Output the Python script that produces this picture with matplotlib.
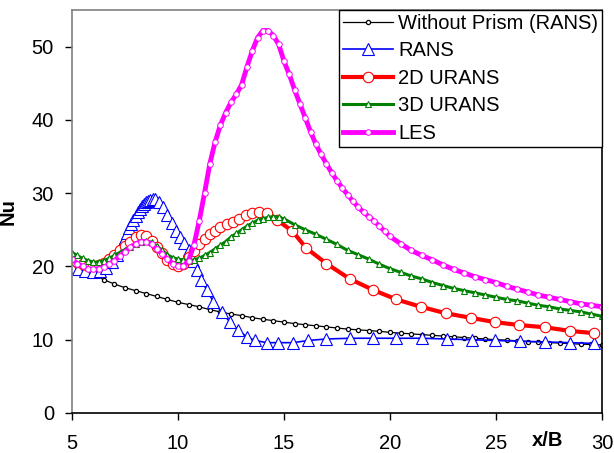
import matplotlib
matplotlib.use('Agg')
from matplotlib import pyplot as plt

plt.rcParams['font.family'] = ['Liberation Sans', 'DejaVu Sans']

### Data (x/B, Nu)
x_noprism = [5.0, 5.5, 6.0, 6.5, 7.0, 7.5, 8.0, 8.5, 9.0, 9.5, 10.0, 10.5, 11.0, 11.5, 12.0,
             12.5, 13.0, 13.5, 14.0, 14.5, 15.0, 15.5, 16.0, 16.5, 17.0, 17.5, 18.0, 18.5,
             19.0, 19.5, 20.0, 20.5, 21.0, 21.5, 22.0, 22.5, 23.0, 23.5, 24.0, 24.5, 25.0,
             25.5, 26.0, 26.5, 27.0, 27.5, 28.0, 28.5, 29.0, 29.5, 30.0]
nu_noprism = [20.4, 19.6, 18.9, 18.2, 17.6, 17.1, 16.7, 16.3, 15.9, 15.5, 15.1, 14.8, 14.5,
              14.1, 13.8, 13.5, 13.3, 13.0, 12.8, 12.6, 12.4, 12.2, 12.05, 11.9, 11.75, 11.6,
              11.45, 11.35, 11.25, 11.15, 11.0, 10.9, 10.8, 10.7, 10.6, 10.5, 10.4, 10.3, 10.2,
              10.1, 10.0, 9.95, 9.85, 9.75, 9.7, 9.6, 9.55, 9.45, 9.4, 9.35, 9.3]

x_rans = [5.0, 5.3, 5.6, 6.0, 6.3, 6.6, 6.9, 7.1, 7.3, 7.4, 7.5, 7.6, 7.7, 7.8, 7.9, 8.0, 8.1,
          8.2, 8.3, 8.4, 8.5, 8.6, 8.7, 8.8, 8.9, 9.1, 9.3, 9.5, 9.7, 9.9, 10.1, 10.3, 10.5,
          10.7, 10.9, 11.1, 11.35, 11.67, 12.06, 12.45, 12.85, 13.24, 13.63, 14.18, 14.73,
          15.44, 16.15, 17.0, 18.1, 19.2, 20.3, 21.5, 22.67, 23.85, 24.95, 26.13, 27.3,
          28.5, 29.6]
nu_rans = [19.9, 19.6, 19.4, 19.3, 19.4, 19.8, 20.6, 21.5, 22.6, 23.2, 23.9, 24.5, 25.2, 25.8,
           26.4, 26.9, 27.4, 27.8, 28.2, 28.5, 28.8, 29.0, 29.1, 29.2, 29.2, 28.8, 28.1, 27.0,
           25.9, 24.9, 24.0, 23.2, 22.2, 20.7, 19.5, 18.2, 16.8, 15.2, 13.8, 12.4, 11.3, 10.4,
           9.9, 9.6, 9.6, 9.6, 9.9, 10.1, 10.2, 10.2, 10.2, 10.2, 10.1, 10.0, 9.9, 9.8, 9.7,
           9.6, 9.5]

x_urans2d = [5.0, 5.25, 5.5, 5.75, 6.0, 6.25, 6.5, 6.75, 7.0, 7.25, 7.5, 7.75, 8.0, 8.25, 8.5,
             8.75, 9.0, 9.25, 9.5, 9.75, 10.0, 10.25, 10.5, 10.75, 11.0, 11.25, 11.5, 11.75,
             12.0, 12.3, 12.6, 12.9, 13.2, 13.5, 13.8, 14.2, 14.65, 15.4, 16.05, 17.0, 18.1,
             19.2, 20.3, 21.45, 22.65, 23.8, 24.95, 26.1, 27.3, 28.5, 29.6]
nu_urans2d = [21.0, 20.6, 20.3, 20.1, 20.1, 20.2, 20.5, 21.0, 21.6, 22.2, 22.8, 23.4, 24.0,
              24.3, 24.1, 23.5, 22.7, 21.8, 20.9, 20.3, 20.0, 20.4, 21.3, 22.1, 23.0, 23.8,
              24.4, 24.9, 25.4, 25.8, 26.1, 26.5, 27.0, 27.3, 27.4, 27.3, 26.4, 24.8, 22.5,
              20.4, 18.3, 16.8, 15.5, 14.5, 13.6, 13.0, 12.4, 12.0, 11.7, 11.2, 10.9]

x_urans3d = [5.0, 5.25, 5.5, 5.75, 6.0, 6.25, 6.5, 6.75, 7.0, 7.25, 7.5, 7.75, 8.0, 8.25, 8.5,
             8.75, 9.0, 9.25, 9.5, 9.75, 10.0, 10.25, 10.5, 10.75, 11.0, 11.25, 11.5, 11.75,
             12.0, 12.25, 12.5, 12.75, 13.0, 13.25, 13.5, 13.75, 14.0, 14.25, 14.5, 14.75,
             15.0, 15.5, 16.0, 16.5, 17.0, 17.5, 18.0, 18.5, 19.0, 19.5, 20.0, 20.5, 21.0,
             21.5, 22.0, 22.5, 23.0, 23.5, 24.0, 24.5, 25.0, 25.5, 26.0, 26.5, 27.0, 27.5,
             28.0, 28.5, 29.0, 29.5, 30.0]
nu_urans3d = [21.9, 21.5, 21.1, 20.8, 20.6, 20.6, 20.8, 21.1, 21.5, 21.9, 22.3, 22.7, 23.1,
              23.4, 23.5, 23.3, 22.8, 22.2, 21.6, 21.2, 21.0, 20.9, 20.8, 20.9, 21.1, 21.5,
              21.9, 22.4, 22.9, 23.4, 24.0, 24.5, 25.0, 25.5, 25.9, 26.3, 26.5, 26.7, 26.8,
              26.7, 26.5, 25.7, 25.0, 24.4, 23.7, 23.0, 22.2, 21.6, 21.0, 20.3, 19.7, 19.2,
              18.7, 18.3, 17.8, 17.4, 17.0, 16.7, 16.4, 16.1, 15.8, 15.5, 15.3, 15.0, 14.7,
              14.5, 14.2, 14.0, 13.8, 13.5, 13.2]

x_les = [5.0, 5.25, 5.5, 5.75, 6.0, 6.25, 6.5, 6.75, 7.0, 7.25, 7.5, 7.75, 8.0, 8.25, 8.5,
         8.75, 9.0, 9.25, 9.5, 9.75, 10.0, 10.25, 10.5, 10.75, 11.0, 11.25, 11.5, 11.75, 12.0,
         12.25, 12.5, 12.75, 13.0, 13.25, 13.5, 13.75, 14.0, 14.25, 14.5, 14.75, 15.0, 15.25,
         15.5, 15.75, 16.0, 16.25, 16.5, 16.75, 17.0, 17.25, 17.5, 17.75, 18.0, 18.25, 18.5,
         18.75, 19.0, 19.25, 19.5, 19.75, 20.0, 20.5, 21.0, 21.5, 22.0, 22.5, 23.0, 23.5,
         24.0, 24.5, 25.0, 25.5, 26.0, 26.5, 27.0, 27.5, 28.0, 28.5, 29.0, 29.5, 30.0]
nu_les = [21.0, 20.4, 20.0, 19.7, 19.6, 19.7, 19.9, 20.3, 20.8, 21.4, 22.0, 22.6, 23.1, 23.4,
          23.4, 23.0, 22.4, 21.7, 21.0, 20.4, 20.0, 20.0, 20.8, 22.9, 26.2, 30.0, 34.0, 37.0,
          39.3, 41.0, 42.4, 43.5, 44.8, 47.2, 49.4, 51.2, 52.2, 52.2, 51.5, 50.3, 48.0, 46.2,
          44.1, 42.2, 40.3, 38.4, 36.7, 35.3, 34.0, 32.8, 31.7, 30.7, 29.8, 28.9, 28.1, 27.4,
          26.8, 26.2, 25.5, 24.8, 24.1, 23.1, 22.2, 21.5, 20.9, 20.2, 19.6, 19.1, 18.6, 18.2,
          17.8, 17.3, 16.9, 16.5, 16.1, 15.8, 15.5, 15.2, 14.9, 14.7, 14.5]

fig = plt.figure(figsize=(6.14, 4.53), dpi=100)
ax = fig.add_axes([72/614, 1 - 413/453, 530/614, 403/453])

ax.plot(x_noprism, nu_noprism, color='black', lw=0.9, marker='o', ms=3, mfc='white',
        mec='black', mew=0.9, label='Without Prism (RANS)')
ax.plot(x_rans, nu_rans, color='blue', lw=1.2, marker='^', ms=8, mfc='white',
        mec='blue', mew=0.8, label='RANS')
ax.plot(x_urans2d, nu_urans2d, color='red', lw=3, marker='o', ms=7.5, mfc='white',
        mec='red', mew=0.8, label='2D URANS')
ax.plot(x_urans3d, nu_urans3d, color='green', lw=2.2, marker='^', ms=5, mfc='white',
        mec='green', mew=0.8, label='3D URANS')
ax.plot(x_les, nu_les, color='magenta', lw=3.5, marker='o', ms=4, mfc='white',
        mec='magenta', mew=0.7, label='LES')

ax.set_xlim(5, 30)
ax.set_ylim(0, 55)
ax.set_xticks([5, 10, 15, 20, 25, 30])
ax.set_yticks([0, 10, 20, 30, 40, 50])
ax.tick_params(direction='out', length=5, width=1, labelsize=14.5, colors='black')
ax.tick_params(axis='x', pad=10)
ax.tick_params(axis='y', pad=8)

for side in ['left', 'top']:
    ax.spines[side].set_color('#808080')
for side in ['right', 'bottom']:
    ax.spines[side].set_color('black')
for s in ax.spines.values():
    s.set_linewidth(1.2)

ax.set_ylabel('Nu', fontsize=14.5, fontweight='bold')
ax.yaxis.set_label_coords(-0.102, 0.5)
ax.annotate('x/B', xy=(27.45, -0.069), xycoords=('data', 'axes fraction'),
            ha='center', va='center', fontsize=14.5, fontweight='bold')

leg = ax.legend(loc='upper right', fontsize=14.5, numpoints=1, handlelength=2.5,
                handletextpad=0.25, labelspacing=0.42, borderaxespad=0, borderpad=0.2,
                fancybox=False, framealpha=1, edgecolor='black')
leg.get_frame().set_linewidth(1.0)

fig.savefig('out.png', dpi=100)
